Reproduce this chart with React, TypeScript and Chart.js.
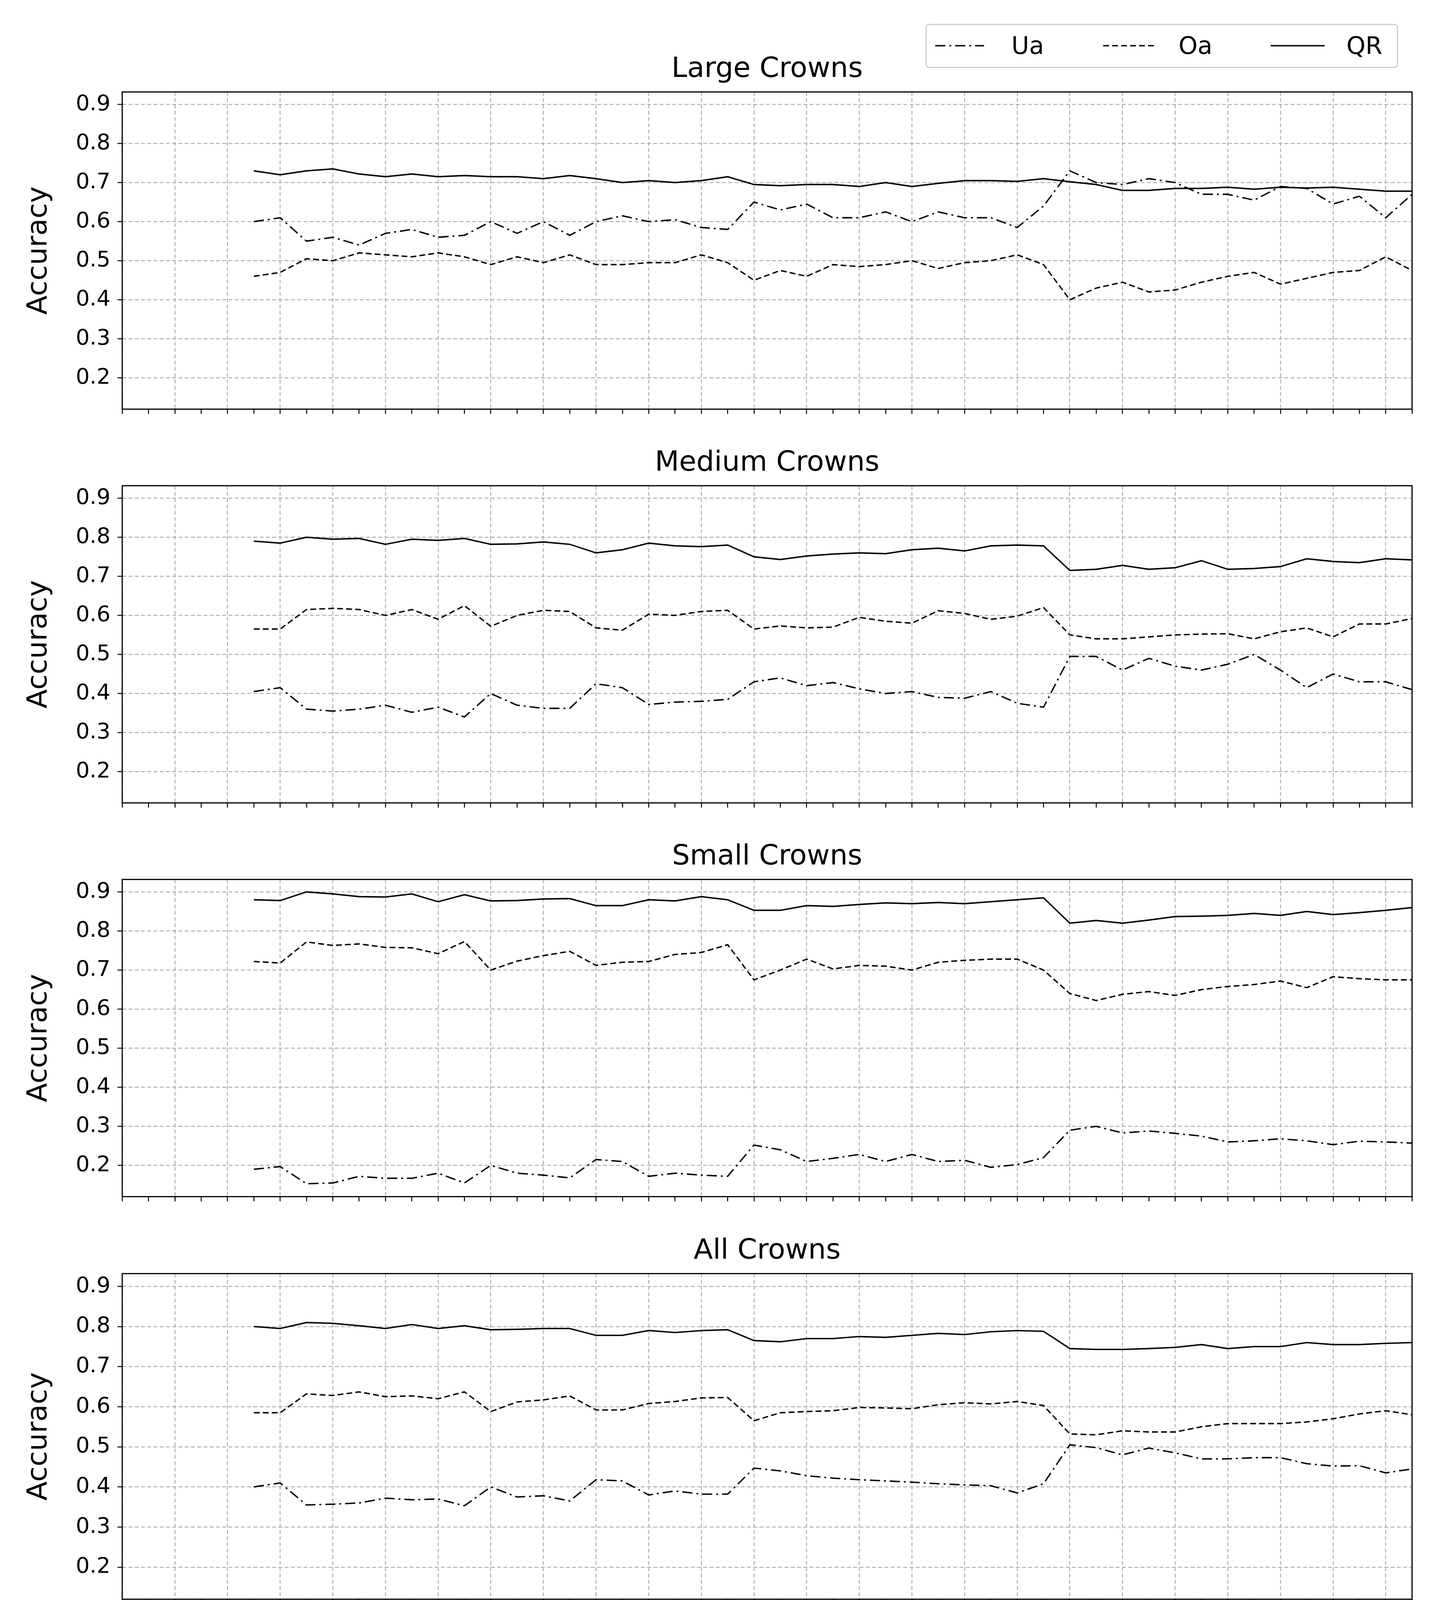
import React, { useEffect, useRef } from "react";
import { Chart, registerables } from "chart.js";
Chart.register(...registerables);

const xs: number[] = [];
for (let v = 12; v <= 100; v += 2) xs.push(v);

const panelTitles = ["Large Crowns", "Medium Crowns", "Small Crowns", "All Crowns"];

const largeUa = [.60,.61,.55,.56,.54,.57,.58,.56,.565,.60, .57,.60,.565,.60,.615,.60,.605,.585,.58,.65, .63,.645,.61,.61,.625,.60,.625,.61,.61,.585, .64,.73,.70,.695,.71,.70,.67,.67,.655,.69, .685,.645,.665,.61,.67];
const largeOa = [.46,.47,.505,.50,.52,.515,.51,.52,.51,.49, .51,.495,.515,.49,.49,.495,.495,.515,.495,.45, .475,.46,.49,.485,.49,.50,.48,.495,.50,.515, .49,.40,.43,.445,.42,.425,.445,.46,.47,.44, .455,.47,.475,.51,.475];
const largeQR = [.73,.72,.73,.735,.722,.715,.722,.715,.718,.715, .715,.71,.718,.71,.70,.705,.70,.705,.715,.695, .692,.695,.695,.69,.70,.69,.698,.705,.705,.703, .71,.702,.695,.68,.68,.685,.685,.688,.683,.688, .686,.688,.683,.678,.678];

const mediumUa = [.405,.415,.36,.355,.36,.37,.352,.365,.34,.40, .37,.362,.362,.425,.415,.372,.378,.38,.385,.43, .44,.42,.428,.412,.40,.405,.39,.388,.405,.375, .365,.495,.495,.46,.49,.47,.46,.475,.50,.46, .415,.45,.43,.43,.41];
const mediumOa = [.565,.565,.615,.618,.615,.60,.615,.59,.625,.572, .60,.613,.61,.568,.562,.603,.60,.61,.613,.565, .573,.568,.57,.595,.585,.58,.612,.605,.59,.598, .62,.55,.54,.54,.545,.55,.552,.553,.54,.558, .568,.545,.578,.578,.592];
const mediumQR = [.79,.785,.80,.795,.797,.782,.795,.792,.797,.782, .783,.788,.782,.76,.768,.785,.778,.776,.78,.75, .743,.752,.757,.76,.758,.768,.772,.765,.778,.78, .778,.715,.718,.728,.718,.722,.74,.718,.72,.725, .745,.738,.735,.745,.742];

const smallUa = [.19,.197,.153,.155,.172,.167,.167,.18,.155,.20, .18,.175,.168,.215,.21,.172,.18,.175,.172,.252, .24,.21,.218,.228,.21,.228,.21,.213,.195,.202, .22,.29,.30,.283,.288,.282,.275,.26,.263,.268, .263,.253,.262,.26,.257];
const smallOa = [.722,.718,.772,.763,.767,.758,.757,.742,.773,.70, .723,.737,.748,.712,.72,.722,.74,.745,.765,.675, .70,.728,.703,.712,.71,.70,.72,.725,.728,.728, .70,.64,.622,.638,.645,.635,.65,.658,.663,.672, .655,.683,.678,.675,.675];
const smallQR = [.88,.878,.90,.895,.888,.887,.895,.875,.893,.877, .878,.882,.883,.865,.865,.88,.877,.888,.88,.853, .853,.865,.863,.868,.872,.87,.873,.87,.875,.88, .885,.82,.827,.82,.828,.837,.838,.84,.845,.84, .85,.842,.847,.853,.86];

const allUa = [.40,.41,.355,.357,.36,.372,.368,.37,.353,.40, .375,.378,.365,.418,.415,.38,.39,.382,.382,.447, .44,.428,.422,.418,.415,.412,.408,.405,.403,.385, .408,.505,.498,.48,.497,.485,.47,.47,.473,.473, .458,.452,.453,.435,.445];
const allOa = [.585,.585,.632,.628,.637,.625,.627,.62,.637,.588, .612,.617,.627,.592,.592,.608,.613,.622,.623,.565, .585,.588,.59,.598,.597,.595,.605,.61,.607,.613, .603,.532,.53,.54,.537,.537,.55,.558,.558,.558, .562,.57,.582,.59,.58];
const allQR = [.80,.795,.81,.808,.802,.795,.805,.795,.802,.792, .793,.795,.795,.778,.778,.79,.785,.79,.792,.765, .762,.77,.77,.775,.773,.778,.783,.78,.787,.79, .788,.745,.743,.743,.745,.748,.755,.745,.75,.75, .76,.755,.755,.758,.76];

const panelData = [
  [largeUa, largeOa, largeQR],
  [mediumUa, mediumOa, mediumQR],
  [smallUa, smallOa, smallQR],
  [allUa, allOa, allQR],
];
const seriesNames = ["Ua", "Oa", "QR"];
const dashes = [[26, 10, 5, 10], [15, 8], []];
const yTicks = [0.2, 0.3, 0.4, 0.5, 0.6, 0.7, 0.8, 0.9];
const xTicks: number[] = [];
for (let v = 2; v <= 100; v += 2) xTicks.push(v);

const FONT = "'DejaVu Sans', sans-serif";
const plotTops = [227, 1235, 2243, 3252];
const PLOT_H = 834;
const LEFT = 305;
const PAD_L = 45;
const RIGHT_PAD = 3677 - 3608;

function Panel({ idx }: { idx: number }) {
  const ref = useRef<HTMLCanvasElement>(null);
  const last = idx === 3;
  const bottomH = last ? 250 : 30;
  const height = 110 + PLOT_H + bottomH;
  useEffect(() => {
    const frame = {
      id: "frame",
      afterDatasetsDraw(c: any) {
        const a = c.chartArea;
        const ctx = c.ctx;
        ctx.save();
        ctx.strokeStyle = "#000";
        ctx.lineWidth = 3;
        ctx.strokeRect(a.left, a.top, a.right - a.left, a.bottom - a.top);
        ctx.restore();
      },
    };
    const chart = new Chart(ref.current!, {
      type: "line",
      data: {
        datasets: panelData[idx].map((arr, k) => ({
          label: seriesNames[k],
          data: arr.map((y, i) => ({ x: xs[i], y })),
          borderColor: "#000",
          borderWidth: 3.6,
          borderDash: dashes[k],
          pointRadius: 0,
          tension: 0,
          fill: false,
        })),
      },
      options: {
        animation: false,
        responsive: false,
        devicePixelRatio: 1,
        layout: { padding: { left: PAD_L, right: RIGHT_PAD, top: 10, bottom: 0 } },
        plugins: {
          legend: { display: false },
          tooltip: { enabled: false },
          title: {
            display: true,
            fullSize: false,
            text: panelTitles[idx],
            color: "#000",
            font: { family: FONT, size: 72, weight: "normal" },
            padding: { top: 0, bottom: 14 },
          },
        },
        scales: {
          x: {
            type: "linear",
            min: 2,
            max: 100,
            afterBuildTicks: (s: any) => { s.ticks = xTicks.map((v) => ({ value: v })); },
            afterFit: (s: any) => { s.height = bottomH; },
            ticks: {
              autoSkip: false,
              maxRotation: 0,
              color: "#000",
              padding: 8,
              font: { family: FONT, size: 56 },
              callback: (v: any) => (last && (v - 2) % 4 === 0 && v < 100 ? String(v) : ""),
            },
            grid: {
              color: (c: any) => (c.tick && (c.tick.value - 2) % 4 === 0 && c.tick.value < 100 ? "#b0b0b0" : "rgba(0,0,0,0)"),
              lineWidth: 2.5,
              tickColor: "#000",
              tickLength: 12,
              tickWidth: 2.5,
            },
            border: { display: false, dash: [10, 6] },
            title: {
              display: last,
              text: "Spatial resolution (cm)",
              color: "#000",
              font: { family: FONT, size: 72 },
              padding: { top: 20 },
            },
          },
          y: {
            min: 0.12,
            max: 0.932,
            afterBuildTicks: (s: any) => { s.ticks = yTicks.map((v) => ({ value: v })); },
            afterFit: (s: any) => { s.width = LEFT - PAD_L; },
            ticks: {
              color: "#000",
              padding: 18,
              font: { family: FONT, size: 56 },
              callback: (v: any) => Number(v).toFixed(1),
            },
            grid: {
              color: "#b0b0b0",
              lineWidth: 2.5,
              tickColor: "#000",
              tickLength: 12,
              tickWidth: 2.5,
            },
            border: { display: false, dash: [10, 6] },
            title: {
              display: true,
              text: "Accuracy",
              color: "#000",
              font: { family: FONT, size: 72 },
              padding: { bottom: 10 },
            },
          },
        },
      } as any,
      plugins: [frame],
    });
    return () => chart.destroy();
  }, [idx]);
  return (
    <canvas
      ref={ref}
      width={3677}
      height={height}
      style={{ position: "absolute", left: 0, top: plotTops[idx] - 110, width: 3677, height }}
    />
  );
}

function Legend() {
  const items = [
    { name: "Ua", x1: 2387, x2: 2512, tx: 2582, dash: "26 10 5 10" },
    { name: "Oa", x1: 2817, x2: 2955, tx: 3010, dash: "15 8" },
    { name: "QR", x1: 3246, x2: 3384, tx: 3440, dash: "" },
  ];
  return (
    <div style={{ position: "absolute", left: 0, top: 0, width: 3677, height: 200, pointerEvents: "none" }}>
      <div style={{ position: "absolute", left: 2362, top: 53, width: 1210, height: 113, border: "3px solid #ccc", borderRadius: 10, background: "#fff", boxSizing: "border-box" }} />
      <svg width={3677} height={200} style={{ position: "absolute", left: 0, top: 0 }}>
        {items.map((it) => (
          <line key={it.name} x1={it.x1} x2={it.x2} y1={109} y2={109} stroke="#000" strokeWidth={3.6} strokeDasharray={it.dash || undefined} />
        ))}
      </svg>
      {items.map((it) => (
        <span key={it.name} style={{ position: "absolute", left: it.tx, top: 109 - 40, fontFamily: FONT, fontSize: 62, lineHeight: "80px", color: "#000" }}>
          {it.name}
        </span>
      ))}
    </div>
  );
}

export default function App() {
  return (
    <div style={{ position: "relative", width: 3677, height: 4330, background: "#fff", overflow: "hidden" }}>
      {[0, 1, 2, 3].map((i) => (
        <Panel key={i} idx={i} />
      ))}
      <Legend />
    </div>
  );
}
